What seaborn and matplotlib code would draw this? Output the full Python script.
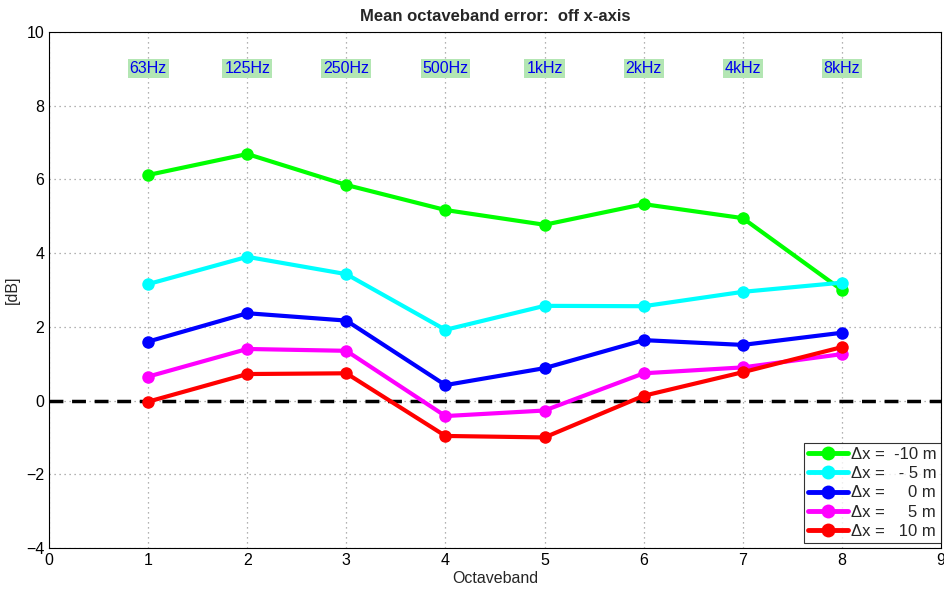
import numpy as np
import pandas as pd
import matplotlib
matplotlib.use("Agg")
import matplotlib.pyplot as plt
import seaborn as sns

bands = [1, 2, 3, 4, 5, 6, 7, 8]
band_labels = ["63Hz", "125Hz", "250Hz", "500Hz", "1kHz", "2kHz", "4kHz", "8kHz"]
series_names = ["\u0394x =  -10 m", "\u0394x =   - 5 m", "\u0394x =     0 m", "\u0394x =     5 m", "\u0394x =   10 m"]
err_m10 = [6.12, 6.69, 5.85, 5.17, 4.77, 5.33, 4.95, 3.00]
err_m5 = [3.16, 3.90, 3.43, 1.92, 2.57, 2.56, 2.95, 3.20]
err_0 = [1.60, 2.37, 2.17, 0.42, 0.88, 1.64, 1.51, 1.84]
err_p5 = [0.65, 1.40, 1.35, -0.42, -0.27, 0.74, 0.90, 1.26]
err_p10 = [-0.03, 0.72, 0.74, -0.96, -1.00, 0.13, 0.77, 1.45]
colors = ["#00ff00", "#00ffff", "#0000ff", "#ff00ff", "#ff0000"]

all_vals = [err_m10, err_m5, err_0, err_p5, err_p10]
df = pd.DataFrame({
    "band": bands * len(series_names),
    "err": np.concatenate(all_vals),
    "series": np.repeat(series_names, len(bands)),
})

sns.set_style("white")
plt.rcParams['font.family'] = ['Liberation Sans', 'DejaVu Sans']

fig = plt.figure(figsize=(9.44, 5.89), dpi=100)
ax = fig.add_axes([49/944, 1-548/589, (941-49)/944, (548-32)/589])

sns.lineplot(data=df, x="band", y="err", hue="series", hue_order=series_names,
             palette=colors, marker="o", markersize=9, markeredgewidth=0,
             linewidth=3, ax=ax, legend=True)

ax.axhline(0, color="black", linestyle=(0, (4, 2.5)), linewidth=2.5, zorder=1)

for b, lab in zip(bands, band_labels):
    ax.text(b, 9, lab, ha="center", va="center", fontsize=11.5, color="#0000ee",
            bbox=dict(boxstyle="square,pad=0.12", facecolor="#b3e6b3", edgecolor="none"))

ax.set_xlim(0, 9)
ax.set_ylim(-4, 10)
ax.set_xticks(range(0, 10))
ax.set_yticks(range(-4, 11, 2))
ax.grid(True, linestyle=(0, (1, 3)), color="#999999", linewidth=0.9)
ax.tick_params(direction="in", length=4, labelsize=11.5, colors="black")
for s in ax.spines.values():
    s.set_color("black")
    s.set_linewidth(0.8)
ax.set_xlabel("Octaveband", fontsize=11.5, labelpad=2)
ax.set_ylabel("[dB]", fontsize=11.5)
ax.set_title("Mean octaveband error:  off x-axis", fontsize=12, fontweight="bold", pad=8)

leg = ax.legend(loc="lower right", bbox_to_anchor=(1.0, 0.01), fontsize=12, frameon=True,
                fancybox=False, edgecolor="black", borderpad=0.25, labelspacing=0.25,
                handlelength=2.4, handletextpad=0.2, borderaxespad=0.0)
leg.get_frame().set_linewidth(0.8)
for line in leg.get_lines():
    line.set_linewidth(3.5)
    line.set_markersize(10)

fig.savefig("out.png", dpi=100)
